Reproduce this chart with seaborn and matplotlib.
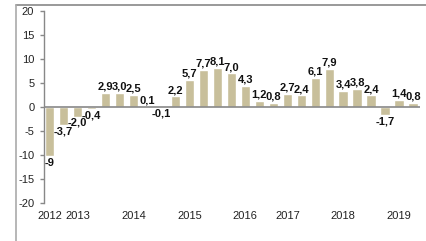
import pandas as pd
import seaborn as sns
import matplotlib.pyplot as plt
from matplotlib.lines import Line2D

values = [-10.3, -3.7, -2.0, -0.4, 2.9, 3.0, 2.5, 0.1, -0.1, 2.2, 5.7, 7.7, 8.1, 7.0,
          4.3, 1.2, 0.8, 2.7, 2.4, 6.1, 7.9, 3.4, 3.8, 2.4, -1.7, 1.4, 0.8]
labels = ["-9", "-3,7", "-2,0", "-0,4", "2,9", "3,0", "2,5", "0,1", "-0,1", "2,2", "5,7",
          "7,7", "8,1", "7,0", "4,3", "1,2", "0,8", "2,7", "2,4", "6,1", "7,9", "3,4",
          "3,8", "2,4", "-1,7", "1,4", "0,8"]
year_pos = [0, 2, 6, 10, 14, 17, 21, 25]
years = ["2012", "2013", "2014", "2015", "2016", "2017", "2018", "2019"]
yticks = [-20, -15, -10, -5, 0, 5, 10, 15, 20]

df = pd.DataFrame({"pos": range(len(values)), "value": values})

sns.set_style("white")
plt.rcParams["font.family"] = ["Liberation Sans", "DejaVu Sans"]

fig = plt.figure(figsize=(4.27, 2.41), dpi=100)
ax = fig.add_axes([0.103, 0.158, 0.881, 0.796])

sns.barplot(data=df, x="pos", y="value", color="#C8BF9B", saturation=1,
            width=0.68, ax=ax)
ax.bar_label(ax.containers[0], labels=labels, padding=1, fontsize=8,
             fontweight="bold", color="#111111")

ax.axhline(0, color="#888888", lw=1.2, zorder=3)
ax.set_ylim(-20, 20)
ax.set_yticks(yticks)
ax.set_yticklabels([str(t) for t in yticks])
ax.set_xlim(-0.4, 26.5)
ax.set_xticks(year_pos)
ax.set_xticklabels(years)
ax.set_xlabel("")
ax.set_ylabel("")

for s in ["top", "right", "bottom"]:
    ax.spines[s].set_visible(False)
ax.spines["left"].set_color("#888888")
ax.spines["left"].set_linewidth(1)
ax.tick_params(axis="y", length=3, width=1, color="#888888", labelsize=8,
               labelcolor="#222222", pad=4, left=True)
ax.tick_params(axis="x", length=0, labelsize=8, labelcolor="#222222", pad=6)

# outer frame lines (top and left)
fig.add_artist(Line2D([0.0375, 1.0], [0.979, 0.979], color="#888888", lw=1.2))
fig.add_artist(Line2D([0.0375, 0.0375], [0.0, 0.979], color="#aaaaaa", lw=1.2))

fig.savefig("out.png", dpi=100)
